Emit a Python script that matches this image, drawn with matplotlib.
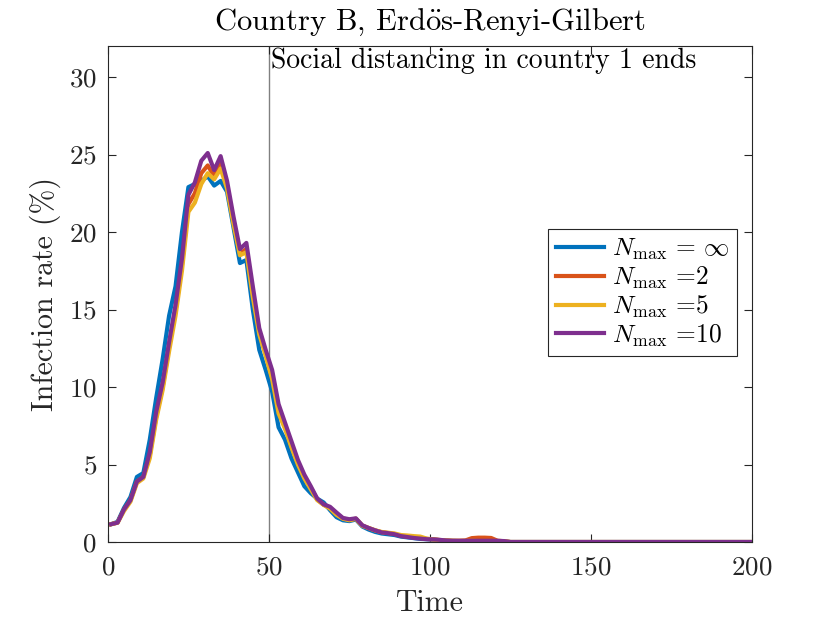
import numpy as np
import matplotlib
matplotlib.use("Agg")
import matplotlib.pyplot as plt

plt.rcParams['font.family'] = ['cmr10', 'DejaVu Serif']
plt.rcParams['mathtext.fontset'] = 'cm'
plt.rcParams['axes.formatter.use_mathtext'] = True
plt.rcParams['axes.unicode_minus'] = False

# time grid (odd days up to 125, then flat zero to 200)
t = [1, 3, 5, 7, 9, 11, 13, 15, 17, 19, 21, 23, 25, 27, 29, 31, 33, 35, 37, 39,
     41, 43, 45, 47, 49, 51, 53, 55, 57, 59, 61, 63, 65, 67, 69, 71, 73, 75, 77, 79,
     81, 83, 85, 87, 89, 91, 93, 95, 97, 99, 101, 103, 105, 107, 109, 111, 113, 115, 117, 119,
     121, 123, 125, 200]

inf_rate = [1.15, 1.3, 2.2, 2.9, 4.2, 4.45, 6.6, 9.3, 11.8, 14.6, 16.5, 20.0, 22.9, 23.1, 23.3, 23.6, 23.0, 23.3, 22.6, 20.3,
            18.0, 18.2, 15.0, 12.4, 11.1, 9.7, 7.4, 6.6, 5.4, 4.5, 3.6, 3.15, 2.8, 2.55, 2.05, 1.6, 1.4, 1.35, 1.45, 1.0,
            0.8, 0.65, 0.55, 0.5, 0.45, 0.35, 0.3, 0.25, 0.2, 0.18, 0.15, 0.12, 0.08, 0.07, 0.06, 0.06, 0.06, 0.05, 0.05, 0.05,
            0.05, 0.03, 0.0, 0.0]

n2_rate = [1.15, 1.25, 2.1, 2.7, 3.9, 4.2, 5.6, 8.1, 10.0, 12.6, 14.9, 17.9, 21.8, 22.5, 23.8, 24.3, 23.6, 24.4, 23.0, 20.7,
           18.6, 18.9, 16.0, 13.6, 12.2, 10.8, 8.6, 7.5, 6.3, 5.1, 4.2, 3.5, 2.75, 2.4, 2.2, 1.8, 1.52, 1.43, 1.5, 1.06,
           0.9, 0.75, 0.63, 0.58, 0.52, 0.4, 0.35, 0.3, 0.26, 0.2, 0.17, 0.13, 0.1, 0.08, 0.08, 0.1, 0.25, 0.28, 0.28, 0.26,
           0.08, 0.05, 0.0, 0.0]

n5_rate = [1.15, 1.25, 2.0, 2.6, 3.8, 4.1, 5.4, 7.9, 9.8, 12.3, 14.6, 17.5, 21.3, 21.9, 23.1, 23.8, 23.4, 24.1, 22.8, 20.5,
           18.5, 18.7, 15.8, 13.4, 12.0, 10.5, 8.3, 7.3, 6.1, 5.0, 4.1, 3.4, 2.7, 2.4, 2.15, 1.75, 1.5, 1.4, 1.5, 1.05,
           0.9, 0.75, 0.65, 0.6, 0.55, 0.45, 0.42, 0.38, 0.35, 0.22, 0.17, 0.12, 0.1, 0.08, 0.07, 0.07, 0.07, 0.06, 0.06, 0.06,
           0.06, 0.04, 0.0, 0.0]

n10_rate = [1.15, 1.25, 2.1, 2.7, 3.9, 4.2, 5.8, 8.4, 10.3, 12.9, 15.3, 18.3, 22.4, 23.2, 24.6, 25.1, 24.0, 24.9, 23.3, 21.0,
            18.9, 19.3, 16.5, 13.8, 12.4, 11.1, 8.9, 7.7, 6.5, 5.3, 4.35, 3.6, 2.8, 2.43, 2.27, 1.9, 1.55, 1.47, 1.53, 1.08,
            0.9, 0.75, 0.62, 0.57, 0.5, 0.38, 0.32, 0.26, 0.22, 0.18, 0.17, 0.14, 0.1, 0.08, 0.08, 0.08, 0.08, 0.08, 0.08, 0.08,
            0.08, 0.06, 0.0, 0.0]

labels = [r'$N_{\max}$ = $\infty$', r'$N_{\max}$ =2', r'$N_{\max}$ =5', r'$N_{\max}$ =10']
colors = ['#0072BD', '#D95319', '#EDB120', '#7E2F8E']
series = [inf_rate, n2_rate, n5_rate, n10_rate]

fig = plt.figure(figsize=(8.3, 6.23), dpi=100)
ax = fig.add_axes([0.130, 0.130, 0.776, 0.796])

ax.axvline(50, color='#808080', lw=1.0, zorder=1)
for s, c, lab in zip(series, colors, labels):
    ax.plot(t, s, color=c, lw=3.0, label=lab, zorder=2)

ax.text(50.6, 31.9, 'Social distancing in country 1 ends', ha='left', va='top', fontsize=20)

ax.set_xlim(0, 200)
ax.set_ylim(0, 32)
ax.set_xticks([0, 50, 100, 150, 200])
ax.set_yticks([0, 5, 10, 15, 20, 25, 30])
ax.tick_params(direction='in', top=True, right=True, length=6, width=0.8,
               labelsize=19.5, colors='#262626')
ax.tick_params(axis='x', pad=10)
ax.tick_params(axis='y', pad=8)
for sp in ax.spines.values():
    sp.set_color('#262626')
    sp.set_linewidth(0.8)

ax.set_xlabel('Time', fontsize=21.5, color='#262626', labelpad=7)
ax.set_ylabel('Infection rate (%)', fontsize=21.5, color='#262626', labelpad=6)
ax.set_title(r'Country B, Erd$\ddot{\mathrm{o}}$s-Renyi-Gilbert', fontsize=22, pad=12)

leg = ax.legend(loc='upper right', bbox_to_anchor=(0.977, 0.631), fontsize=18.3,
                fancybox=False, framealpha=1, edgecolor='#262626', borderaxespad=0,
                handlelength=1.9, handletextpad=0.3, labelspacing=0.1, borderpad=0.3)
leg.get_frame().set_linewidth(0.8)

fig.savefig('out.png', dpi=100)
